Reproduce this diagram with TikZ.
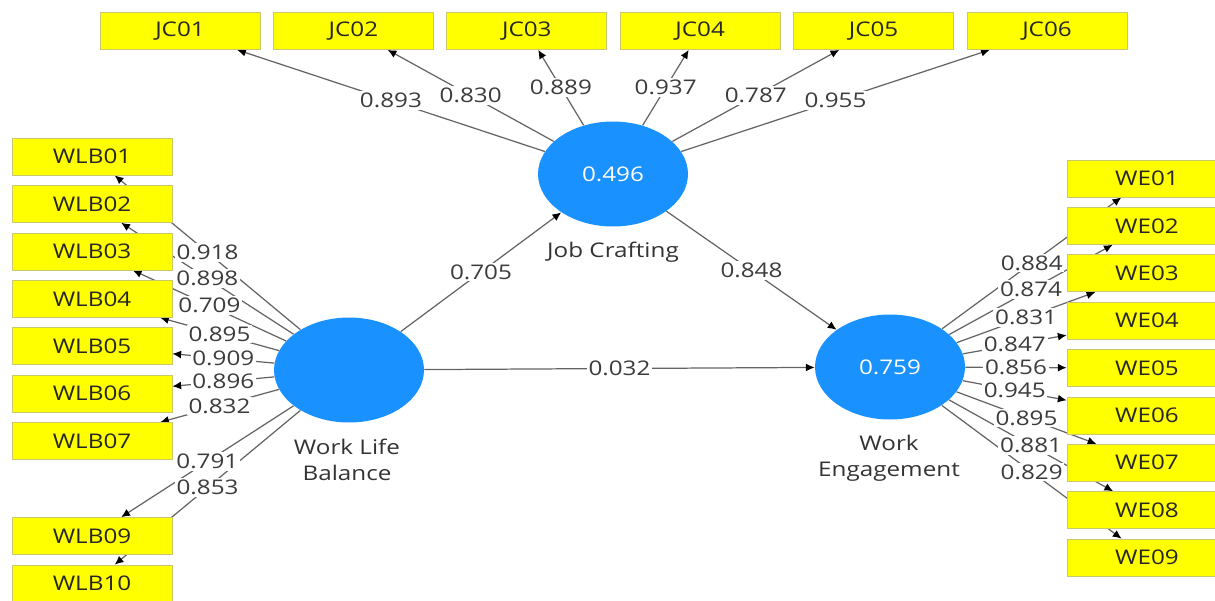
\documentclass[tikz,border=0pt]{standalone}
\usepackage{fontspec}
\setmainfont{Open Sans}[FakeStretch=1.2]
\usetikzlibrary{positioning,shapes.geometric,arrows.meta}
\definecolor{lvblue}{RGB}{25,145,255}
\definecolor{mvyellow}{RGB}{255,255,0}
\definecolor{mvborder}{RGB}{200,200,110}
\definecolor{pathgray}{RGB}{100,100,100}
\definecolor{coeftext}{RGB}{60,60,60}
\pgfdeclarelayer{edges}
\pgfsetlayers{edges,main}

\begin{document}
\begin{tikzpicture}[x=0.02cm,y=-0.02cm,
        every node/.style={font=\fontsize{11.5}{14.7}\selectfont},
        indicator/.style={draw=mvborder,fill=mvyellow,minimum width=3.2cm,minimum height=0.74cm,inner sep=0pt,text=black!85},
        construct/.style={ellipse,fill=lvblue,minimum width=3cm,minimum height=2.1cm,inner sep=0pt,text=white},
        lvname/.style={align=center,text=black!80},
        coef/.style={fill=white,inner sep=1pt,text=coeftext},
        loading/.style={draw=pathgray,line width=0.7pt,-{Latex[length=5pt,width=4.5pt,black]}}]
    \useasboundingbox (0,0) rectangle (1215,600);
    \clip (0,0) rectangle (1215,600);
    % latent variables
    \node[construct] (wlb) at (349,370) {};
    \node[construct] (jc) at (613,174) {0.496};
    \node[construct] (we) at (890,367) {0.759};
    \node[lvname] (wlbname) at (347,460) {Work Life\\Balance};
    \node[lvname] (jcname) at (613,252) {Job Crafting};
    \node[lvname] (wename) at (889,458) {Work\\Engagement};
    % indicators
    \foreach \n in {1,...,6}{%
            \node[indicator] (JC0\n) at ({6.6+173.4*\n},31) {JC0\n};
        }
    \foreach \n/\y in {01/156.5,02/203.9,03/251.4,04/298.8,05/346.3,06/393.7,07/441.1,09/536.0,10/583.5}{%
            \node[indicator] (WLB\n) at (92,\y) {WLB\n};
        }
    \foreach \n in {1,...,9}{%
            \node[indicator] (WE0\n) at (1147,{178.5+47.375*(\n-1)}) {WE0\n};
        }
    % loadings
    \foreach \n/\w in {1/0.893,2/0.830,3/0.889,4/0.937,5/0.787,6/0.955}{%
            \begin{pgfonlayer}{edges}\draw[loading] (jc) -- (JC0\n);\end{pgfonlayer}
            \path (jc) -- node[coef]{\w} (JC0\n);
        }
    \foreach \n/\w in {01/0.918,02/0.898,03/0.709,04/0.895,05/0.909,06/0.896,07/0.832,09/0.791,10/0.853}{%
            \begin{pgfonlayer}{edges}\draw[loading] (wlb) -- (WLB\n);\end{pgfonlayer}
            \path (wlb) -- node[coef]{\w} (WLB\n);
        }
    \foreach \n/\w in {1/0.884,2/0.874,3/0.831,4/0.847,5/0.856,6/0.945,7/0.895,8/0.881,9/0.829}{%
            \begin{pgfonlayer}{edges}\draw[loading] (we) -- (WE0\n);\end{pgfonlayer}
            \path (we) -- node[coef]{\w} (WE0\n);
        }
    % inner model
    \foreach \a/\b/\w in {wlb/jc/0.705,jc/we/0.848,wlb/we/0.032}{%
            \begin{pgfonlayer}{edges}\draw[loading] (\a) -- (\b);\end{pgfonlayer}
            \path (\a) -- node[coef]{\w} (\b);
        }
\end{tikzpicture}
\end{document}
